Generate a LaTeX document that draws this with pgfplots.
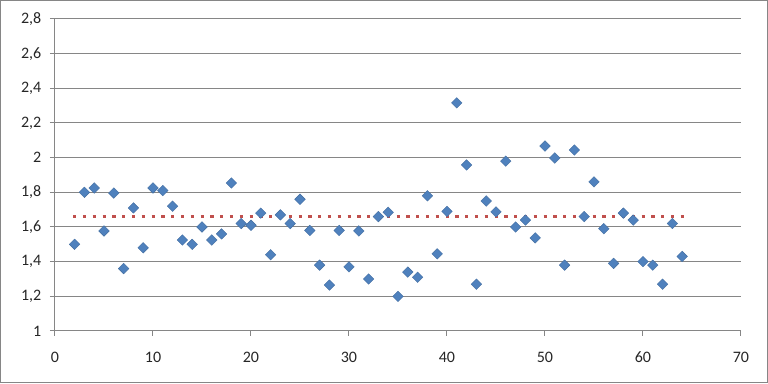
\documentclass[border=0pt]{standalone}
\usepackage{fontspec}
\setmainfont{Carlito}
\usepackage{pgfplots}
\pgfplotsset{compat=1.18}
\definecolor{exblue}{RGB}{79,129,189}
\definecolor{exred}{RGB}{192,80,77}
\definecolor{exgrid}{RGB}{134,134,134}
\begin{document}
\begin{tikzpicture}
\useasboundingbox (-41.25pt,-39.75pt) rectangle (534.75pt,248.25pt);
\begin{axis}[
  scale only axis,
  width=514.5pt, height=234pt,
  xmin=0, xmax=70, ymin=1, ymax=2.8,
  xtick={0,10,...,70},
  ytick={1,1.2,...,2.81},
  axis x line*=bottom, axis y line*=left,
  axis line style={exgrid, line width=0.75pt, -},
  ymajorgrids,
  grid style={exgrid, line width=0.75pt},
  tick align=outside,
  major tick length=3.75pt,
  tick style={exgrid, line width=0.75pt},
  /pgf/number format/assume math mode=true,
  /pgf/number format/use comma,
  /pgf/number format/fixed,
  ticklabel style={font=\fontsize{12}{14}\selectfont, text=black!85},
  yticklabel style={xshift=-3pt},
  xticklabel style={yshift=-8.5pt},
  clip=false,
]
\addplot[only marks, mark=square*, mark size=2.8pt, mark options={rotate=45, fill=exblue, draw=exblue!85!black, line width=0.3pt}]
coordinates {
(2,1.50)(3,1.80)(4,1.825)(5,1.577)(6,1.796)(7,1.36)(8,1.71)(9,1.48)(10,1.825)
(11,1.81)(12,1.72)(13,1.525)(14,1.50)(15,1.60)(16,1.525)(17,1.56)(18,1.854)(19,1.62)(20,1.61)
(21,1.68)(22,1.44)(23,1.67)(24,1.62)(25,1.76)(26,1.58)(27,1.38)(28,1.265)(29,1.58)(30,1.37)
(31,1.577)(32,1.30)(33,1.66)(34,1.685)(35,1.20)(36,1.34)(37,1.31)(38,1.78)(39,1.445)(40,1.69)
(41,2.316)(42,1.958)(43,1.27)(44,1.75)(45,1.687)(46,1.98)(47,1.60)(48,1.64)(49,1.537)(50,2.067)
(51,1.998)(52,1.38)(53,2.044)(54,1.66)(55,1.86)(56,1.59)(57,1.39)(58,1.68)(59,1.64)(60,1.40)
(61,1.38)(62,1.27)(63,1.62)(64,1.43)
};
\addplot[exred, line width=2.4pt, dash pattern=on 2.4pt off 4.95pt, no marks]
coordinates {(1.85,1.66)(64.3,1.66)};
\end{axis}
\draw[exgrid, line width=0.75pt] (-40.5pt,-39pt) rectangle (534pt,247.5pt);
\end{tikzpicture}
\end{document}
